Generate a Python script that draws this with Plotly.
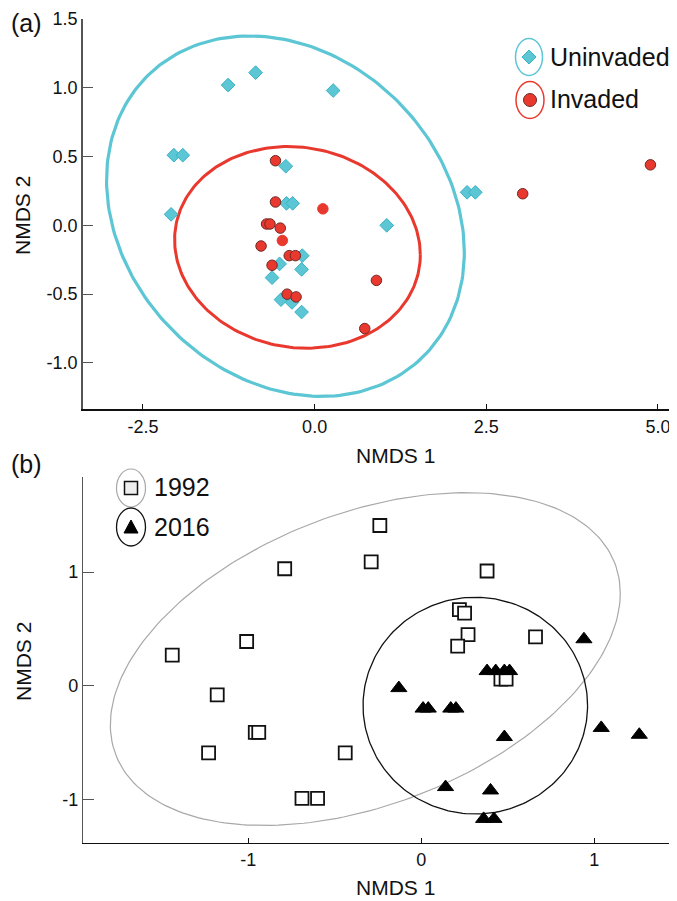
import numpy as np
import plotly.graph_objects as go

# ---------------- Panel (a) data ----------------
uninv_x = [-1.26, -0.86, 0.27, -2.05, -1.92, -2.09, -0.42, -0.41, -0.32, -0.18,
           -0.51, -0.19, -0.62, -0.49, -0.33, -0.19, 1.05, 2.22, 2.34]
uninv_y = [1.02, 1.11, 0.98, 0.51, 0.51, 0.08, 0.43, 0.16, 0.16, -0.22,
           -0.28, -0.32, -0.38, -0.54, -0.56, -0.63, 0.00, 0.24, 0.24]
inv_x = [-0.57, -0.57, 0.12, -0.70, -0.65, -0.50, -0.47, -0.78, -0.37, -0.28,
         -0.62, -0.40, -0.27, 0.73, 0.90, 3.03, 4.89]
inv_y = [0.47, 0.17, 0.12, 0.01, 0.01, -0.02, -0.11, -0.15, -0.22, -0.22,
         -0.29, -0.50, -0.52, -0.75, -0.40, 0.23, 0.44]
inv_outlined = [1, 1, 0, 1, 1, 1, 0, 1, 1, 1, 1, 1, 1, 1, 1, 1, 1]

# ellipse parameters: [centre x, centre y, half-extent x, half-extent y, cross term]
ell_uninv = [-0.425, 0.067, 2.605, 1.31, -0.685]
ell_inv = [-0.25, -0.16, 1.789, 0.733, -0.098]

a_xticks = [-2.5, 0.0, 2.5, 5.0]
a_xtext = ["-2.5", "0.0", "2.5", "5.0"]
a_yticks = [-1.0, -0.5, 0.0, 0.5, 1.0, 1.5]
a_ytext = ["-1.0", "-0.5", "0.0", "0.5", "1.0", "1.5"]

# ---------------- Panel (b) data ----------------
y1992_x = [-0.79, -1.01, -1.44, -1.18, -0.96, -0.94, -1.23, -0.44, -0.69, -0.60,
           -0.24, -0.29, 0.38, 0.22, 0.25, 0.27, 0.21, 0.66, 0.46, 0.49]
y1992_y = [1.03, 0.39, 0.27, -0.08, -0.41, -0.41, -0.59, -0.59, -0.99, -0.99,
           1.41, 1.09, 1.01, 0.67, 0.64, 0.45, 0.35, 0.43, 0.06, 0.06]
y2016_x = [-0.13, 0.01, 0.04, 0.17, 0.20, 0.38, 0.43, 0.48, 0.51, 0.48,
           0.14, 0.40, 0.36, 0.42, 0.94, 1.04, 1.26]
y2016_y = [-0.02, -0.20, -0.20, -0.20, -0.20, 0.13, 0.13, 0.13, 0.13, -0.45,
           -0.89, -0.92, -1.17, -1.17, 0.41, -0.37, -0.43]

ell_1992 = [-0.324, 0.2355, 1.474, 1.4635, 0.853]
ell_2016 = [0.312, -0.174, 0.649, 0.953, 0.0]

b_xticks = [-1, 0, 1]
b_xtext = ["-1", "0", "1"]
b_yticks = [-1, 0, 1]
b_ytext = ["-1", "0", "1"]

# ---------------- styling ----------------
CYAN = "#5CC6D4"
CYAN_DARK = "#35B2C4"
RED = "#E9392F"
RED_DARK = "#6E2A26"
FONT = "Liberation Sans, Arial, sans-serif"
TXT = "#111111"

OFF = 8  # default page body margin
W, H = 677 - OFF, 901 - OFF
ML, MR, MT, MB = 83 - OFF, 0, 19 - OFF, 58
PW, PH = W - ML - MR, H - MT - MB


def fx(px):  # reference-image pixel -> paper fraction
    return (px - OFF - ML) / PW


def fy(py):
    return (H - MB - (py - OFF)) / PH


def ellipse(p, n=240):
    cx, cy, sx, sy, sxy = p
    t = np.linspace(0, 2 * np.pi, n)
    l21 = sxy / sx
    l22 = np.sqrt(sy ** 2 - l21 ** 2)
    return cx + sx * np.cos(t), cy + l21 * np.cos(t) + l22 * np.sin(t)


fig = go.Figure()

# panel a
ex, ey = ellipse(ell_uninv)
fig.add_trace(go.Scatter(x=ex, y=ey, mode="lines", line=dict(color=CYAN, width=3.2),
                         xaxis="x", yaxis="y", hoverinfo="skip"))
ex, ey = ellipse(ell_inv)
fig.add_trace(go.Scatter(x=ex, y=ey, mode="lines", line=dict(color=RED, width=3),
                         xaxis="x", yaxis="y", hoverinfo="skip"))
fig.add_trace(go.Scatter(x=uninv_x, y=uninv_y, mode="markers", name="Uninvaded",
                         marker=dict(symbol="diamond", size=10.5, color=CYAN,
                                     line=dict(color=CYAN_DARK, width=1)),
                         xaxis="x", yaxis="y"))
fig.add_trace(go.Scatter(x=inv_x, y=inv_y, mode="markers", name="Invaded",
                         marker=dict(symbol="circle", size=10.5, color=RED,
                                     line=dict(color=[RED_DARK if o else RED for o in inv_outlined],
                                               width=1)),
                         xaxis="x", yaxis="y"))

# panel b
ex, ey = ellipse(ell_1992)
fig.add_trace(go.Scatter(x=ex, y=ey, mode="lines", line=dict(color="#A8A8A8", width=1.2),
                         xaxis="x2", yaxis="y2", hoverinfo="skip"))
ex, ey = ellipse(ell_2016)
fig.add_trace(go.Scatter(x=ex, y=ey, mode="lines", line=dict(color="#111111", width=1.3),
                         xaxis="x2", yaxis="y2", hoverinfo="skip"))
fig.add_trace(go.Scatter(x=y1992_x, y=y1992_y, mode="markers", name="1992",
                         marker=dict(symbol="square", size=13, color="white",
                                     line=dict(color="#111111", width=1.8)),
                         xaxis="x2", yaxis="y2"))
fig.add_trace(go.Scatter(x=y2016_x, y=y2016_y, mode="markers", name="2016",
                         marker=dict(symbol="triangle-up", size=14, color="#000000",
                                     line=dict(color="#000000", width=1)),
                         xaxis="x2", yaxis="y2"))

axis_common = dict(showgrid=False, zeroline=False, ticks="inside", mirror=False,
                   tickfont=dict(family=FONT, size=18, color=TXT), showline=True)

fig.update_layout(
    width=W, height=H, showlegend=False,
    paper_bgcolor="white", plot_bgcolor="white",
    margin=dict(l=ML, r=MR, t=MT, b=MB),
    xaxis=dict(axis_common, domain=[0, 1], anchor="y", range=[-3.373, 5.277],
               tickvals=a_xticks, ticktext=a_xtext, ticklen=6, tickcolor="#111",
               linecolor="#111", linewidth=1.5),
    yaxis=dict(axis_common, domain=[fy(409.3), 1], anchor="x", range=[-1.337, 1.5],
               tickvals=a_yticks, ticktext=a_ytext, ticklen=10, tickcolor="#555",
               linecolor="#555", linewidth=1.5),
    xaxis2=dict(axis_common, domain=[0, 1], anchor="y2", range=[-1.956, 1.478],
                tickvals=b_xticks, ticktext=b_xtext, ticklen=5, tickcolor="#111",
                linecolor="#111", linewidth=1.3),
    yaxis2=dict(axis_common, domain=[0, fy(477.3)], anchor="x2", range=[-1.382, 1.834],
                tickvals=b_yticks, ticktext=b_ytext, ticklen=11, tickcolor="#555",
                linecolor="#555", linewidth=1.3),
)

ann = []


def text(px, py, s, size, xanchor="left", angle=0):
    ann.append(dict(x=fx(px), y=fy(py), xref="paper", yref="paper", text=s,
                    showarrow=False, xanchor=xanchor, yanchor="middle", textangle=angle,
                    borderpad=0, font=dict(family=FONT, size=size, color=TXT)))


text(10, 23, "(a)", 25)
text(10, 464, "(b)", 25)
text(395, 455, "NMDS 1", 21, xanchor="center")
text(395, 887, "NMDS 1", 21, xanchor="center")
text(23, 216, "NMDS 2", 21, xanchor="center", angle=-90)
text(23, 662, "NMDS 2", 21, xanchor="center", angle=-90)
text(549, 57, "Uninvaded", 25)
text(549, 99, "Invaded", 25)
text(153, 487, "1992", 25)
text(153, 527, "2016", 25)
fig.update_layout(annotations=ann)

shapes = []


def pshape(px, py, **kw):
    d = dict(xref="paper", yref="paper", xsizemode="pixel", ysizemode="pixel",
             xanchor=fx(px), yanchor=fy(py))
    d.update(kw)
    shapes.append(d)


# legend (a)
pshape(529, 57, type="circle", x0=-13.5, x1=13.5, y0=-18.5, y1=18.5,
       line=dict(color=CYAN, width=1.5))
pshape(529, 57, type="path", path="M 0,7 L 7,0 L 0,-7 L -7,0 Z",
       fillcolor=CYAN, line=dict(color=CYAN_DARK, width=1))
pshape(530, 100, type="circle", x0=-14, x1=14, y0=-18.5, y1=18.5,
       line=dict(color=RED, width=1.5))
pshape(530, 100, type="circle", x0=-6.5, x1=6.5, y0=-6.5, y1=6.5,
       fillcolor=RED, line=dict(color=RED_DARK, width=1))
# legend (b)
pshape(131, 488, type="circle", x0=-14.5, x1=14.5, y0=-19, y1=19,
       line=dict(color="#A8A8A8", width=1.2))
pshape(131, 488, type="rect", x0=-6.5, x1=6.5, y0=-6.5, y1=6.5,
       fillcolor="#EEEEEE", line=dict(color="#111111", width=1.5))
pshape(131, 527, type="circle", x0=-14.5, x1=14.5, y0=-19, y1=19,
       line=dict(color="#111111", width=1.3))
pshape(131, 527, type="path", path="M -7,-6 L 7,-6 L 0,7 Z",
       fillcolor="#000000", line=dict(color="#000000", width=1))
fig.update_layout(shapes=shapes)

fig.write_html("out.html")
